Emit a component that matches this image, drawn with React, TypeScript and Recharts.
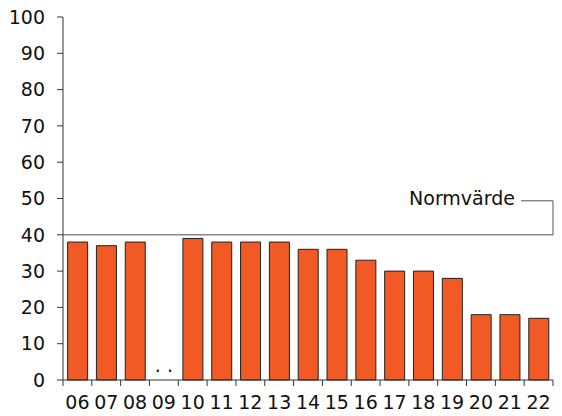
import React from 'react'
import { BarChart, Bar, XAxis, YAxis, ReferenceLine, ReferenceDot } from 'recharts'

const years = ['06', '07', '08', '09', '10', '11', '12', '13', '14', '15', '16', '17', '18', '19', '20', '21', '22']
const values: (number | null)[] = [38, 37, 38, null, 39, 38, 38, 38, 36, 36, 33, 30, 30, 28, 18, 18, 17]
const yTicks = [0, 10, 20, 30, 40, 50, 60, 70, 80, 90, 100]
const normValue = 40
const normLabel = 'Normvärde'
const missingYear = '09'

const boundaryTicks = years.map((_, i) => i).concat([years.length])

const data = years.map((year, i) => ({ year, pos: i + 0.5, value: values[i] }))

const font = '"DejaVu Sans", Arial, sans-serif'

function NormLabel(props: any) {
  const { viewBox } = props
  const right = viewBox.x + viewBox.width
  const y = viewBox.y
  return (
    <g>
      <path d={`M${right - 32},${y - 34} H${right} V${y}`} fill="none" stroke="#555" strokeWidth={1} />
      <text x={right - 38} y={y - 35} textAnchor="end" dominantBaseline="middle" fontFamily={font} fontSize={19} fill="#111">
        {normLabel}
      </text>
    </g>
  )
}

function MissingLabel(props: any) {
  const { viewBox } = props
  return (
    <text x={viewBox.x} y={viewBox.y - 8} textAnchor="middle" fontFamily={font} fontSize={19} fill="#111">
      . .
    </text>
  )
}

export default function App() {
  return (
    <div style={{ position: 'absolute', left: 0, top: 0, background: '#fff' }}>
      <BarChart
        width={562}
        height={416}
        data={data}
        margin={{ top: 17, right: 9, bottom: 0, left: 0 }}
        barCategoryGap="16%"
      >
        {/* boundary tick marks between the categories */}
        <XAxis
          xAxisId={0}
          dataKey="pos"
          type="number"
          domain={[0, years.length]}
          ticks={boundaryTicks}
          interval={0}
          allowDataOverflow
          height={6}
          tick={() => <g />}
          tickSize={6}
          axisLine={{ stroke: '#333' }}
          tickLine={{ stroke: '#333' }}
        />
        <XAxis
          xAxisId="cat"
          dataKey="year"
          height={30}
          axisLine={false}
          tickLine={false}
          tickSize={0}
          tickMargin={10}
          interval={0}
          tick={{ fill: '#111', fontSize: 19, fontFamily: font }}
        />
        <YAxis
          domain={[0, 100]}
          ticks={yTicks}
          width={63}
          tickSize={6}
          tickMargin={12}
          axisLine={{ stroke: '#333' }}
          tickLine={{ stroke: '#333' }}
          tick={{ fill: '#111', fontSize: 19, fontFamily: font }}
        />
        <ReferenceLine
          y={normValue}
          xAxisId="cat"
          stroke="#888"
          strokeWidth={1.5}
          label={<NormLabel />}
        />
        <Bar xAxisId="cat" dataKey="value" fill="#F15A24" stroke="#222" strokeWidth={1} isAnimationActive={false} />
        <ReferenceDot xAxisId="cat" x={missingYear} y={0} r={0} stroke="none" fill="none" label={<MissingLabel />} />
      </BarChart>
    </div>
  )
}
